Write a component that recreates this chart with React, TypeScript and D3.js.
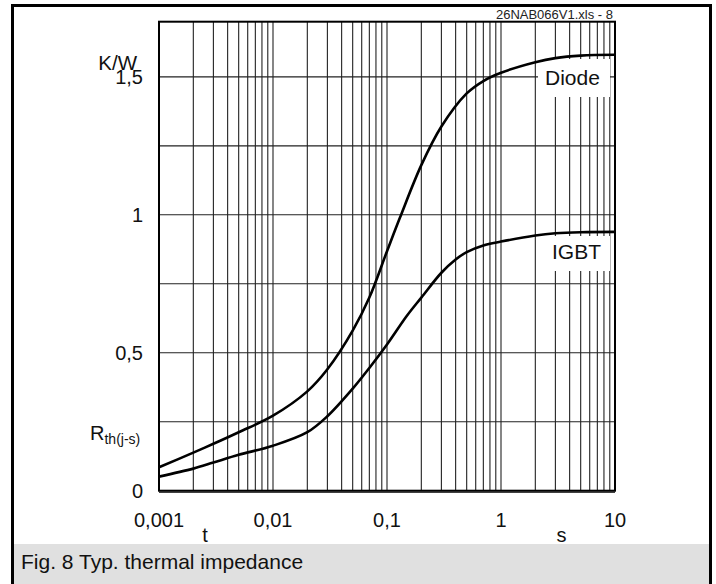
import React from "react";
import * as d3 from "d3";

// Diode Zth(j-s) curve
const diodeT = [0.001, 0.002, 0.003, 0.005, 0.01, 0.02, 0.03, 0.05, 0.07, 0.1, 0.13, 0.2, 0.3, 0.5, 0.7, 1, 2, 3, 5, 10];
const diodeZ = [0.085, 0.138, 0.17, 0.212, 0.272, 0.36, 0.44, 0.58, 0.7, 0.868, 0.99, 1.18, 1.32, 1.44, 1.485, 1.515, 1.553, 1.568, 1.577, 1.58];
// IGBT Zth(j-s) curve
const igbtT = [0.001, 0.002, 0.003, 0.005, 0.01, 0.02, 0.03, 0.05, 0.07, 0.1, 0.15, 0.2, 0.3, 0.4, 0.5, 0.7, 1, 2, 3, 5, 10];
const igbtZ = [0.051, 0.08, 0.102, 0.13, 0.163, 0.212, 0.27, 0.37, 0.445, 0.53, 0.635, 0.7, 0.79, 0.838, 0.865, 0.889, 0.903, 0.925, 0.933, 0.937, 0.938];

const xTickValues = [0.001, 0.01, 0.1, 1, 10];
const xTickLabels = ["0,001", "0,01", "0,1", "1", "10"];
const yTickValues = [0, 0.5, 1, 1.5];
const yTickLabels = ["0", "0,5", "1", "1,5"];
const yGridValues = [0.25, 0.5, 0.75, 1, 1.25, 1.5];

const FONT = "'Liberation Sans', Arial, Helvetica, sans-serif";

export default function App() {
  const W = 716;
  const H = 584;
  const x = d3.scaleLog().domain([0.001, 10]).range([159, 615]);
  const y = d3.scaleLinear().domain([0, 1.7]).range([490.7, 21.7]);

  const xGrid: number[] = [];
  for (let e = -3; e < 1; e++) {
    for (let m = 1; m <= 9; m++) {
      const v = m * Math.pow(10, e);
      if (v > 0.001 && v < 10) xGrid.push(v);
    }
  }

  const line = d3
    .line<[number, number]>()
    .x((d) => x(d[0]))
    .y((d) => y(d[1]))
    .curve(d3.curveCatmullRom.alpha(0.5));

  const diodePts = diodeT.map((t, i) => [t, diodeZ[i]] as [number, number]);
  const igbtPts = igbtT.map((t, i) => [t, igbtZ[i]] as [number, number]);

  const [x0, x1] = x.range();
  const [yb, yt] = y.range();

  return (
    <svg
      width={W}
      height={H}
      viewBox={`0 0 ${W} ${H}`}
      style={{ position: "absolute", left: 0, top: 0, background: "#fff" }}
      fontFamily={FONT}
    >
      <rect x={0} y={0} width={W} height={H} fill="#fff" />
      {/* caption bar */}
      <rect x={14} y={544} width={695} height={42} fill="#e0e0e0" />
      <text x={21} y={569} fontSize={21} fill="#111">
        Fig. 8 Typ. thermal impedance
      </text>
      {/* outer frame */}
      <rect x={12.5} y={5.5} width={698} height={590} fill="none" stroke="#000" strokeWidth={3} />

      {/* grid */}
      <g stroke="#222" strokeWidth={1.1}>
        {xGrid.map((v, i) => (
          <line key={"vx" + i} x1={x(v)} x2={x(v)} y1={yt} y2={yb} />
        ))}
        {yGridValues.map((v, i) => (
          <line key={"hy" + i} x1={x0} x2={x1} y1={y(v)} y2={y(v)} />
        ))}
      </g>
      {/* label backgrounds */}
      <rect x={538} y={59} width={72} height={38} fill="#fff" />
      <rect x={541} y={236} width={69} height={35} fill="#fff" />

      {/* plot frame */}
      <rect x={x0} y={yt} width={x1 - x0} height={yb - yt} fill="none" stroke="#000" strokeWidth={2} />
      <line x1={x0} x2={x1} y1={yb + 1.5} y2={yb + 1.5} stroke="#000" strokeWidth={1.2} />

      {/* curves */}
      <path d={line(diodePts) || ""} fill="none" stroke="#000" strokeWidth={2.6} />
      <path d={line(igbtPts) || ""} fill="none" stroke="#000" strokeWidth={2.6} />

      <text x={545} y={84.5} fontSize={21} fill="#111">Diode</text>
      <text x={552} y={258.5} fontSize={21} fill="#111">IGBT</text>

      {/* file tag */}
      <text x={613} y={18.5} fontSize={13} textAnchor="end" fill="#222">26NAB066V1.xls - 8</text>

      {/* x tick labels */}
      {xTickValues.map((v, i) => (
        <text key={"xt" + i} x={x(v)} y={527} fontSize={20} textAnchor="middle" fill="#111">
          {xTickLabels[i]}
        </text>
      ))}
      <text x={205} y={541.5} fontSize={20} textAnchor="middle" fill="#111">t</text>
      <text x={561.5} y={541.5} fontSize={20} textAnchor="middle" fill="#111">s</text>

      {/* y tick labels */}
      {yTickValues.map((v, i) => (
        <text key={"yt" + i} x={143} y={y(v) + 7} fontSize={20} textAnchor="end" fill="#111">
          {yTickLabels[i]}
        </text>
      ))}
      <text x={137} y={70} fontSize={20.5} textAnchor="end" fill="#111">K/W</text>
      <text x={90} y={440} fontSize={20} fill="#111">
        R
        <tspan fontSize={14} dy={4}>th(j-s)</tspan>
      </text>
    </svg>
  );
}
